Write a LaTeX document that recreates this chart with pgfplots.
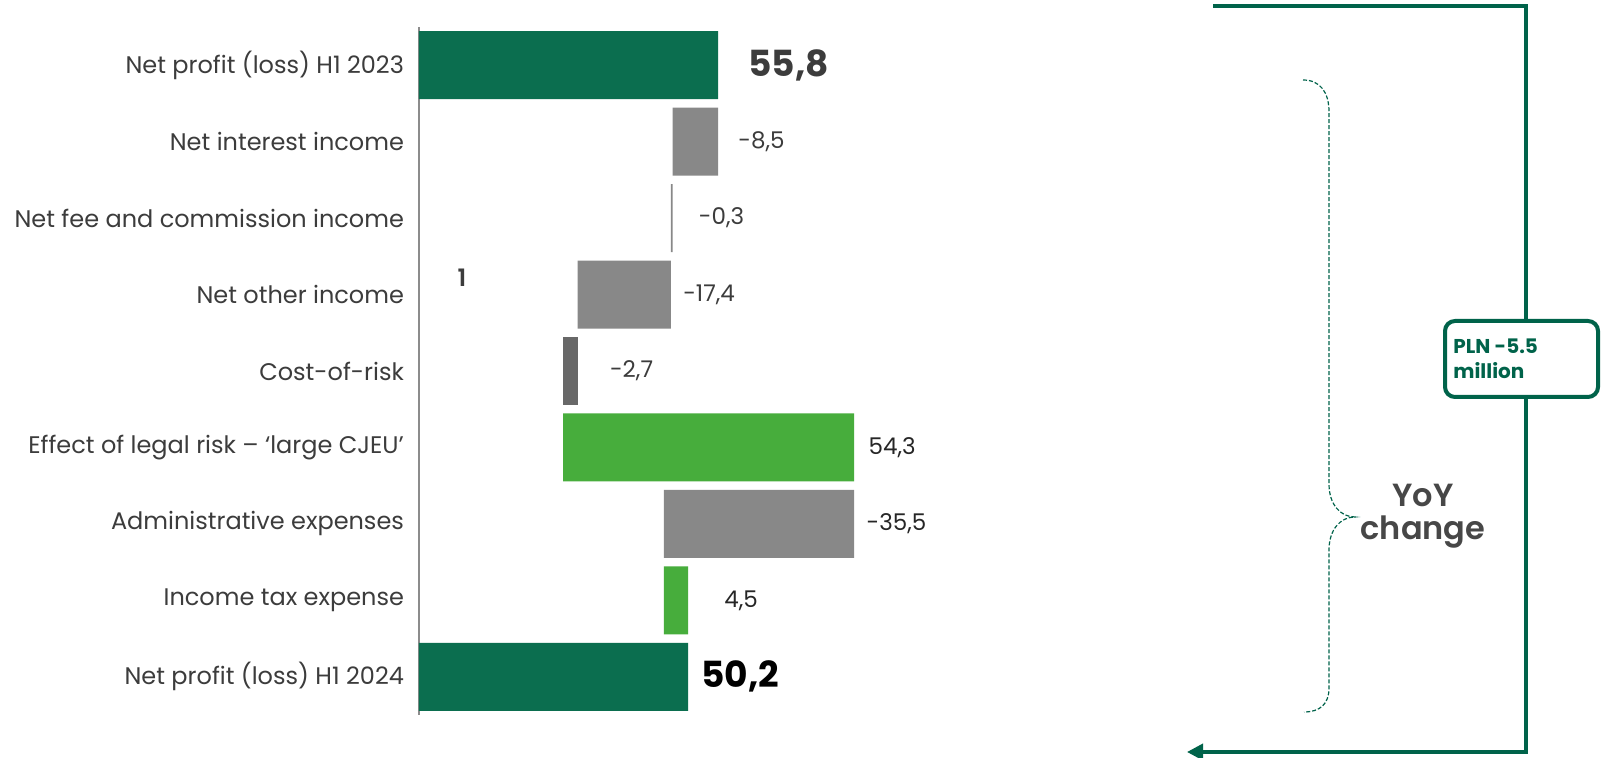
\documentclass[border=0pt]{standalone}
\usepackage{pgfplots}
\pgfplotsset{compat=1.18}
\usepackage{pgfplotstable}
\usepackage{fontspec}
\setmainfont{Poppins}
\newfontfamily\semib{Poppins SemiBold}
\usetikzlibrary{arrows.meta}

\definecolor{dgreen}{HTML}{0B6E4F}
\definecolor{lgreen}{HTML}{47AD3C}
\definecolor{barg}{HTML}{888888}
\definecolor{crg}{HTML}{686868}
\definecolor{lineg}{HTML}{00634A}
\definecolor{txt}{HTML}{3C3C3C}

% row  base   gray  cost  lgreen dgreen
\pgfplotstableread{
row base gray cr lg dg
0 0    0    0   0    55.8
1 47.3 8.5  0   0    0
2 47.0 0.3  0   0    0
3 29.6 17.4 0   0    0
4 26.9 0    2.7 0    0
5 26.9 0    0   54.3 0
6 45.7 35.5 0   0    0
7 45.7 0    0   4.5  0
8 0    0    0   0    50.2
}\waterfall

\begin{document}
\begin{tikzpicture}
\useasboundingbox[fill=white] (0,0) rectangle (800.5pt,-379pt);
\begin{axis}[
  at={(209.5pt,-357.5pt)}, anchor=south west,
  scale only axis, width=268pt, height=344pt,
  xmin=0, xmax=100, ymin=-0.5, ymax=8.5, y dir=reverse,
  xbar stacked, bar width=34pt,
  axis x line=none, axis y line*=left,
  y axis line style={draw=black!45, line width=0.6pt},
  ytick={0,...,8},
  yticklabels={{Net profit (loss) H1 2023},{Net interest income},{Net fee and commission income},{Net other income},{Cost-of-risk},{Effect of legal risk – ‘large CJEU’},{Administrative expenses},{Income tax expense},{Net profit (loss) H1 2024}},
  major tick length=0pt,
  yticklabel style={font=\fontsize{12}{14}\selectfont, text=txt, xshift=-4pt},
  clip=false,
]
\addplot[draw=none, fill=none] table[x=base, y=row] {\waterfall};
\addplot[draw=none, fill=barg] table[x=gray, y=row] {\waterfall};
\addplot[draw=none, fill=crg] table[x=cr, y=row] {\waterfall};
\addplot[draw=none, fill=lgreen] table[x=lg, y=row] {\waterfall};
\addplot[draw=none, fill=dgreen] table[x=dg, y=row] {\waterfall};

\tikzset{vl/.style={anchor=west, inner sep=0pt, font=\fontsize{11.5}{13}\selectfont, text=txt}}
\node[anchor=west, inner sep=0pt, font=\fontsize{18}{20}\selectfont\bfseries, text=txt, xshift=15pt] at (axis cs:55.8,0) {55,8};
\node[vl, xshift=10pt] at (axis cs:55.8,1) {-8,5};
\node[vl, xshift=13pt] at (axis cs:47.3,2) {-0,3};
\node[vl, xshift=6pt] at (axis cs:47.0,3) {-17,4};
\node[vl, xshift=16pt] at (axis cs:29.6,4) {-2,7};
\node[vl, xshift=7pt, text=black!85] at (axis cs:81.2,5) {54,3};
\node[vl, xshift=6pt, text=black!85] at (axis cs:81.2,6) {-35,5};
\node[vl, xshift=18pt, text=black!85] at (axis cs:50.2,7) {4,5};
\node[anchor=west, inner sep=0pt, font=\fontsize{18}{20}\selectfont\bfseries, text=black, xshift=6.5pt] at (axis cs:50.2,8) {50,2};
\end{axis}

\node[font=\fontsize{12}{14}\selectfont\semib, text=txt] at (231pt,-139pt) {1};

% bracket line with arrow
\draw[lineg, line width=1.8pt, -{Triangle[length=8pt,width=8pt]}]
  (606.5pt,-3pt) -- (763pt,-3pt) -- (763pt,-376pt) -- (593.5pt,-376pt);
\draw[lineg, line width=2pt, rounded corners=5pt, fill=white]
  (722.5pt,-160.5pt) rectangle (799pt,-198.5pt);
\node[anchor=west, align=left, text=lineg, font=\fontsize{10}{12.5}\selectfont\bfseries, inner sep=0pt]
  at (726.5pt,-179.5pt) {PLN -5.5\\million};

% dashed curly brace
\draw[lineg, line width=0.6pt, dash pattern=on 2pt off 1pt]
  (651.5pt,-40pt) .. controls (660pt,-40pt) and (664.5pt,-46pt) .. (664.5pt,-56pt)
  -- (664.5pt,-242pt) .. controls (664.5pt,-252pt) and (670pt,-258.5pt) .. (677.5pt,-258.5pt)
  .. controls (670pt,-258.5pt) and (664.5pt,-265pt) .. (664.5pt,-275pt)
  -- (664.5pt,-344pt) .. controls (664.5pt,-352pt) and (660pt,-356pt) .. (652pt,-356pt);

\node[align=center, text=black!72, font=\fontsize{16}{16.5}\selectfont\semib] at (711.5pt,-258pt) {YoY\\change};
\end{tikzpicture}
\end{document}
